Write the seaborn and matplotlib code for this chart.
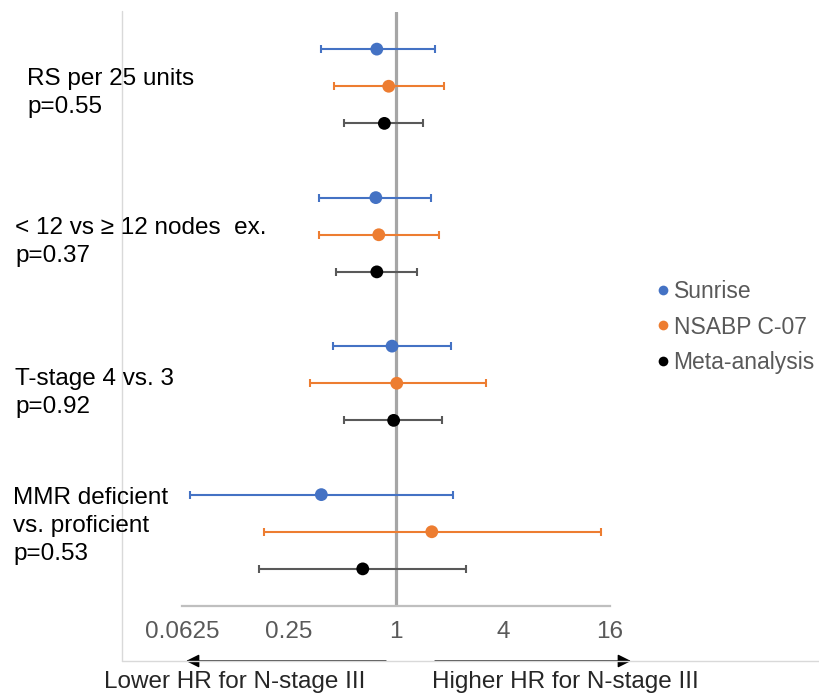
import numpy as np
import pandas as pd
import matplotlib
matplotlib.use('Agg')
import matplotlib.pyplot as plt
from matplotlib.lines import Line2D
import seaborn as sns

# --- data (hazard ratios) ---
factors = ["RS per 25 units", "< 12 vs \u2265 12 nodes  ex.", "T-stage 4 vs. 3", "MMR deficient\nvs. proficient"]
p_values = ["0.55", "0.37", "0.92", "0.53"]
cohorts = ["Sunrise", "NSABP C-07", "Meta-analysis"]

hr_sunrise = [0.78, 0.77, 0.95, 0.38]
lo_sunrise = [0.38, 0.37, 0.44, 0.069]
hi_sunrise = [1.66, 1.57, 2.04, 2.09]

hr_nsabp = [0.91, 0.80, 1.01, 1.59]
lo_nsabp = [0.45, 0.37, 0.33, 0.18]
hi_nsabp = [1.86, 1.75, 3.21, 14.2]

hr_meta = [0.86, 0.78, 0.97, 0.65]
lo_meta = [0.51, 0.46, 0.51, 0.17]
hi_meta = [1.42, 1.31, 1.81, 2.48]

xticks = [0.0625, 0.25, 1, 4, 16]
xtick_labels = ["0.0625", "0.25", "1", "4", "16"]

colors = {"Sunrise": "#4472C4", "NSABP C-07": "#ED7D31", "Meta-analysis": "#000000"}
bar_colors = {"Sunrise": "#4472C4", "NSABP C-07": "#ED7D31", "Meta-analysis": "#595959"}

rows = []
for c, (hr, lo, hi) in enumerate([(hr_sunrise, lo_sunrise, hi_sunrise),
                                   (hr_nsabp, lo_nsabp, hi_nsabp),
                                   (hr_meta, lo_meta, hi_meta)]):
    for g in range(len(factors)):
        rows.append({"cohort": cohorts[c], "factor": factors[g], "hr": hr[g],
                     "lo": lo[g], "hi": hi[g], "row": 4 * g + c})
df = pd.DataFrame(rows)

sns.set_theme(style="white")
plt.rcParams['font.family'] = ['Liberation Sans', 'DejaVu Sans']

W, H = 819, 696
fig = plt.figure(figsize=(W / 100, H / 100), dpi=100)
ax = fig.add_axes([182 / W, (H - 606) / H, 428 / W, 594 / H])
ax.set_xscale('log', base=2)

ax.axvline(1, color='#A6A6A6', lw=2.3, zorder=1)

for name in cohorts:
    d = df[df["cohort"] == name]
    ax.errorbar(d["hr"], d["row"], xerr=[d["hr"] - d["lo"], d["hi"] - d["hr"]],
                fmt='none', ecolor=bar_colors[name], elinewidth=1.5,
                capsize=3, capthick=1.5, zorder=2)

sns.scatterplot(data=df, x="hr", y="row", hue="cohort", palette=colors, s=85,
                edgecolor='none', legend=False, zorder=3, ax=ax)

ax.set_xlim(1 / 16, 16)
ax.set_ylim(15, -1)
ax.set_xticks(xticks)
ax.set_xticklabels(xtick_labels)
ax.minorticks_off()
ax.tick_params(axis='x', length=0, pad=11, labelsize=17.5, labelcolor='#595959')
ax.set_yticks([])
ax.set_xlabel("")
ax.set_ylabel("")
for s in ["top", "right", "left"]:
    ax.spines[s].set_visible(False)
ax.spines["bottom"].set_color('#BFBFBF')
ax.spines["bottom"].set_linewidth(1.6)
ax.patch.set_alpha(0)

# plot-area frame (left and bottom)
fig.add_artist(Line2D([122 / W, 122 / W], [1 - 11 / H, 1 - 661 / H],
                      transform=fig.transFigure, color='#D9D9D9', lw=1))
fig.add_artist(Line2D([122 / W, 1], [1 - 661 / H, 1 - 661 / H],
                      transform=fig.transFigure, color='#D9D9D9', lw=1))

# factor labels on the left
label_x = [27, 15, 15, 13]
label_y = [93, 242, 393, 526]
for g in range(len(factors)):
    fig.text(label_x[g] / W, 1 - label_y[g] / H, f"{factors[g]}\np={p_values[g]}",
             ha='left', va='center', fontsize=17.5, color='black', linespacing=1.38)

# direction arrows
ax.annotate("", xy=(186, H - 661), xytext=(386, H - 661), xycoords='figure pixels',
            textcoords='figure pixels',
            arrowprops=dict(arrowstyle='-|>', color='black', lw=1, mutation_scale=20,
                            shrinkA=0, shrinkB=0))
ax.annotate("", xy=(631, H - 661), xytext=(435, H - 661), xycoords='figure pixels',
            textcoords='figure pixels',
            arrowprops=dict(arrowstyle='-|>', color='black', lw=1, mutation_scale=20,
                            shrinkA=0, shrinkB=0))
fig.text(235 / W, 1 - 682 / H, "Lower HR for N-stage III", ha='center', va='center', fontsize=17.5)
fig.text(432 / W, 1 - 682 / H, "Higher HR for N-stage III", ha='left', va='center', fontsize=17.5)

# legend
handles = [Line2D([], [], marker='o', linestyle='none', markersize=7,
                  markerfacecolor=colors[n], markeredgecolor='none') for n in cohorts]
leg = fig.legend(handles, cohorts, loc='center left', bbox_to_anchor=(646 / W, 1 - 327 / H),
                 frameon=False, fontsize=16.5, handlelength=0.5, handletextpad=0.2,
                 labelspacing=0.55, borderpad=0)
for t in leg.get_texts():
    t.set_color('#595959')

fig.savefig("out.png", dpi=100)
